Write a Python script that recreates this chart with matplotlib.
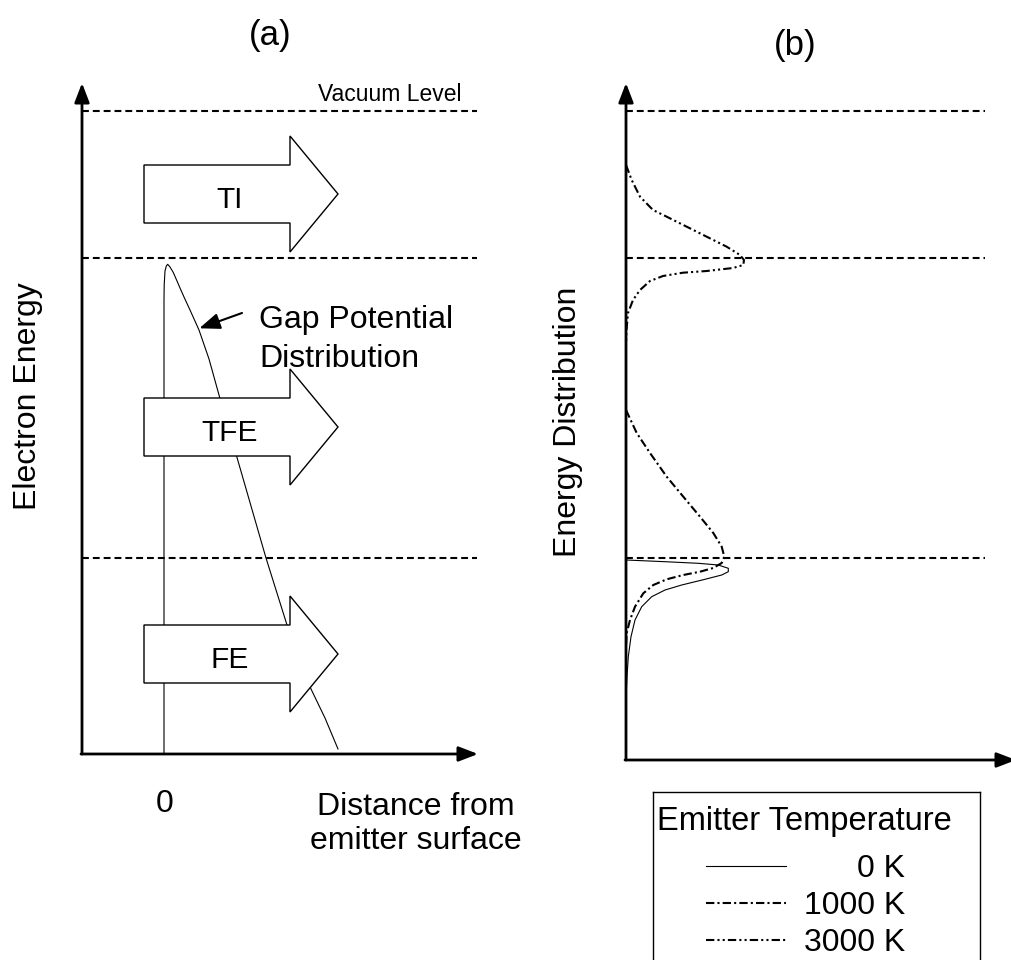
import matplotlib
matplotlib.use('Agg')
import matplotlib.pyplot as plt
import matplotlib.patches as mpatches

plt.rcParams['font.family'] = ['Liberation Sans', 'DejaVu Sans']

W, H = 1012, 960

# energy scale in arbitrary units, Fermi level = 0
level_energy = [0, 300, 447]          # Fermi level, barrier top, vacuum level
baseline_a = -196                     # bottom of panel (a)
E_LO, E_HI = -202, 476

# emission processes drawn as block arrows in (a)
process_labels = ['TI', 'TFE', 'FE']
process_energy = [364, 131, -96]

# gap potential distribution in (a): distance from surface, energy
gap_x = [0, 0, 0.2, 1.0, 2.3, 3.7, 6, 9.3, 13, 16, 20, 26, 35, 45, 55,
         72, 87, 102, 123, 147, 161, 174]
gap_e = [-196, 258, 273, 287, 292, 293.7, 291, 285.5, 277, 270, 261, 248,
         228, 199, 163, 104, 52, 0, -67, -131, -160, -191]

# energy distributions in (b): distribution value, energy
ed0_x = [0, 39, 72.3, 92.3, 102.3, 102.3, 95.7, 79, 55.7, 39, 25.7, 15.7,
         9, 5, 2.3, 1, 0.4, 0]
ed0_e = [-2, -3.7, -5.3, -7, -10.3, -13.7, -17, -21.3, -27, -32, -38.7,
         -48.7, -62, -78.7, -98.7, -118.7, -132, -145]
ed1000_x = [0, 10.7, 24, 40.7, 57.3, 74, 87.3, 95.7, 98.3, 95.7, 87.3, 74,
            57.3, 40.7, 27.3, 17.3, 9, 4, 0.7, 0]
ed1000_e = [148, 125, 105, 81.3, 61.3, 41.3, 25, 11.3, 1.3, -5, -10, -13.7,
            -17, -21.3, -27, -35.3, -48.7, -62, -75, -88.7]
ed3000_x = [0, 5.7, 14, 27, 40.7, 60.7, 80.7, 100.7, 114, 118, 117.3, 107,
            80.7, 57, 37, 24, 14, 7, 2, 0.5, 0]
ed3000_e = [393, 378, 361.3, 348, 341.3, 331.3, 321.3, 311.3, 303, 298, 293,
            290, 287, 285.3, 282, 277, 268, 258, 245, 228, 213]

temp_labels = ['0 K', '1000 K', '3000 K']
temp_styles = [
    dict(color='black', lw=0.8, linestyle='-'),
    dict(color='black', lw=1.5, linestyle=(0, (4, 1.5, 1, 1.5))),
    dict(color='black', lw=1.5, linestyle=(0, (4, 1.5, 1, 1.5, 1, 1.5))),
]


def fig_box(x0, y0, x1, y1):
    # pixel box (origin top-left) -> [left, bottom, width, height]
    return [x0 / W, 1 - y1 / H, (x1 - x0) / W, (y1 - y0) / H]


def fpos(x, y):
    return x / W, 1 - y / H


fig = plt.figure(figsize=(W / 100, H / 100), dpi=100)

ax_a = fig.add_axes(fig_box(82, 82, 490, 760))
ax_a.set_xlim(-82, 326)
ax_a.set_ylim(E_LO, E_HI)
ax_b = fig.add_axes(fig_box(626, 82, 1012, 760))
ax_b.set_xlim(0, 386)
ax_b.set_ylim(E_LO, E_HI)
for ax in (ax_a, ax_b):
    ax.set_axis_off()

# axes drawn as arrows
axis_kw = dict(arrowstyle='-|>,head_length=0.65,head_width=0.25', lw=2,
               color='black', shrinkA=0, shrinkB=0, mutation_scale=18)
ax_a.annotate('', xy=(-82, 475), xytext=(-82, baseline_a),
              arrowprops=axis_kw, annotation_clip=False)
ax_a.annotate('', xy=(314, baseline_a), xytext=(-83, baseline_a),
              arrowprops=axis_kw, annotation_clip=False)
ax_b.annotate('', xy=(0, 475), xytext=(0, E_LO),
              arrowprops=axis_kw, annotation_clip=False)
ax_b.annotate('', xy=(390, E_LO), xytext=(-1, E_LO),
              arrowprops=axis_kw, annotation_clip=False)

# energy levels
level_kw = dict(color='black', lw=1.5, linestyle=(0, (3.3, 1.9)))
for e in level_energy:
    ax_a.plot([-82, 313], [e, e], **level_kw)
    ax_b.plot([0, 359], [e, e], **level_kw)

ax_a.text(298, 457, 'Vacuum Level', ha='right', va='baseline', fontsize=16.5)

# (a) gap potential and emission arrows
ax_a.plot(gap_x, gap_e, color='black', lw=0.8, zorder=2)
for lab, e in zip(process_labels, process_energy):
    arr = mpatches.FancyArrow(-20, e, 194, 0, width=58, head_width=116,
                              head_length=48, length_includes_head=True,
                              facecolor='white', edgecolor='black', lw=1,
                              zorder=3)
    ax_a.add_patch(arr)
    ax_a.text(66, e - 14, lab, ha='center', va='baseline', fontsize=21.5,
              zorder=4)

ax_a.annotate('', xy=(35.3, 229.7), xytext=(78, 245),
              arrowprops=dict(arrowstyle='-|>,head_length=0.9,head_width=0.35',
                              lw=1.5, color='black', shrinkA=0, shrinkB=0,
                              mutation_scale=14))
ax_a.text(95, 230, 'Gap Potential', ha='left', va='baseline', fontsize=23)
ax_a.text(95, 191, 'Distribution', ha='left', va='baseline', fontsize=23)

# (b) energy distributions
curves = [(ed0_x, ed0_e), (ed1000_x, ed1000_e), (ed3000_x, ed3000_e)]
for (cx, ce), st in zip(curves, temp_styles):
    ax_b.plot(cx, ce, zorder=3, **st)

# labels
fig.text(*fpos(270, 36), '(a)', ha='center', va='center', fontsize=25)
fig.text(*fpos(795, 46), '(b)', ha='center', va='center', fontsize=25)
fig.text(*fpos(28, 396), 'Electron Energy', rotation=90, ha='center',
         va='center', fontsize=23)
fig.text(*fpos(568, 422), 'Energy Distribution', rotation=90, ha='center',
         va='center', fontsize=23)
fig.text(*fpos(165, 804), '0', ha='center', va='center', fontsize=23)
fig.text(*fpos(416, 824), 'Distance from\nemitter surface', ha='center',
         va='center', fontsize=23, linespacing=1.15)

# legend box (bottom edge runs off the figure)
ax_l = fig.add_axes(fig_box(653, 792, 980, 975))
ax_l.set_xlim(653, 980)
ax_l.set_ylim(975, 792)
ax_l.set_xticks([])
ax_l.set_yticks([])
for sp in ax_l.spines.values():
    sp.set_linewidth(1)
ax_l.text(657, 830, 'Emitter Temperature', ha='left', va='baseline',
          fontsize=23.5)
for i, (lab, st) in enumerate(zip(temp_labels, temp_styles)):
    y = 866 + 37 * i
    ax_l.plot([706, 786], [y, y], **st)
    ax_l.text(905, y + 11, lab, ha='right', va='baseline', fontsize=23)

fig.savefig('out.png', dpi=100, facecolor='white')
